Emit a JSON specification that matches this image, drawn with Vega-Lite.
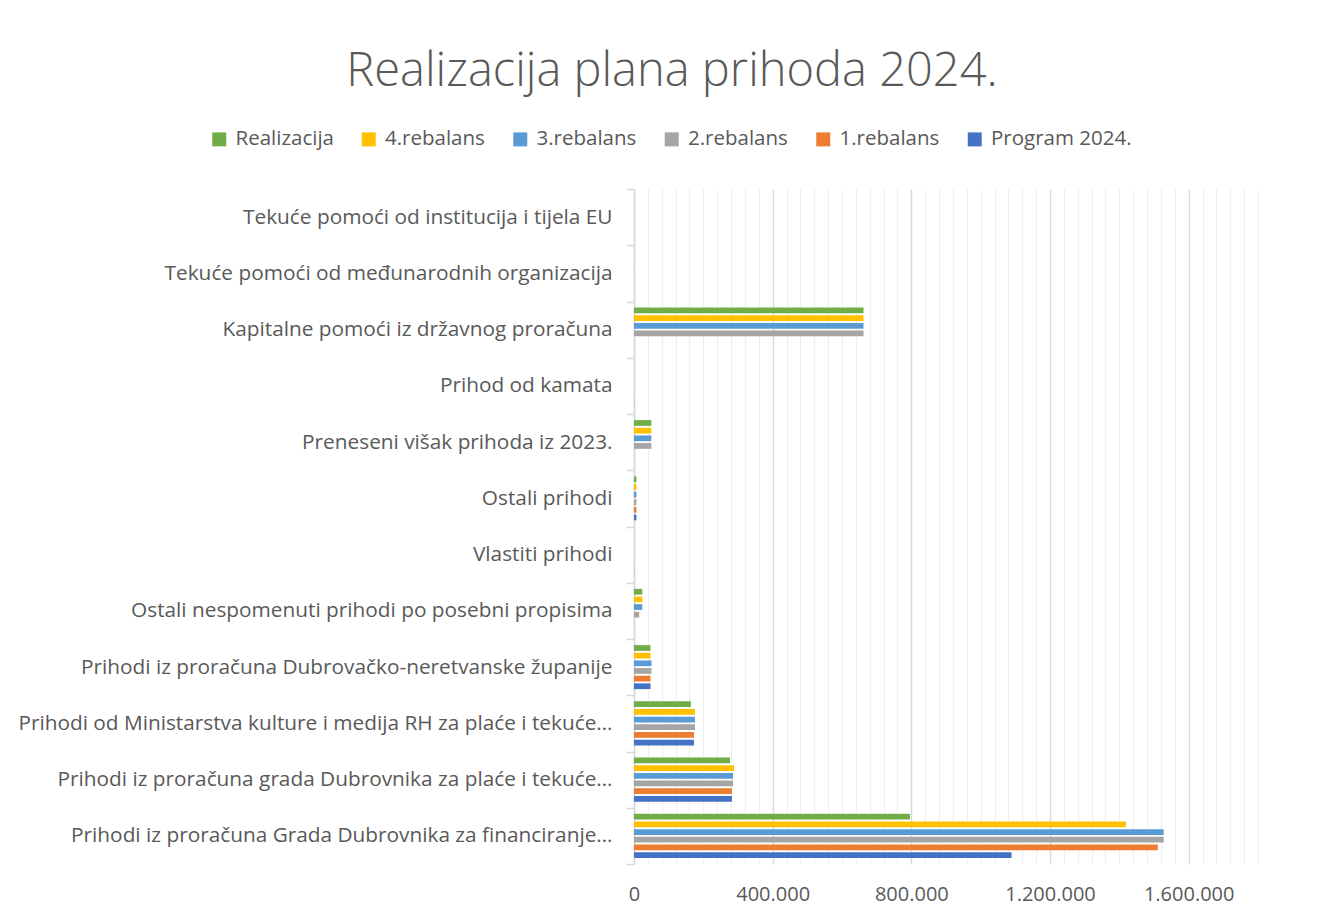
{
  "$schema": "https://vega.github.io/schema/vega-lite/v6.json",
  "autosize": "none",
  "width": 624,
  "height": 675,
  "padding": {"left": 634, "top": 189, "right": 86, "bottom": 55},
  "background": "white",
  "title": {
    "text": "Realizacija plana prihoda 2024.",
    "font": "Open Sans",
    "fontWeight": 300,
    "fontSize": 47,
    "color": "#595959",
    "anchor": "middle",
    "frame": "group",
    "dx": -274,
    "dy": -13,
    "offset": 20
  },
  "data": {
    "values": [
      {"kategorija": "Tekuće pomoći od institucija i tijela EU", "serija": "Realizacija", "iznos": 0},
      {"kategorija": "Tekuće pomoći od institucija i tijela EU", "serija": "4.rebalans", "iznos": 0},
      {"kategorija": "Tekuće pomoći od institucija i tijela EU", "serija": "3.rebalans", "iznos": 0},
      {"kategorija": "Tekuće pomoći od institucija i tijela EU", "serija": "2.rebalans", "iznos": 0},
      {"kategorija": "Tekuće pomoći od institucija i tijela EU", "serija": "1.rebalans", "iznos": 0},
      {"kategorija": "Tekuće pomoći od institucija i tijela EU", "serija": "Program 2024.", "iznos": 0},
      {"kategorija": "Tekuće pomoći od međunarodnih organizacija", "serija": "Realizacija", "iznos": 300},
      {"kategorija": "Tekuće pomoći od međunarodnih organizacija", "serija": "4.rebalans", "iznos": 300},
      {"kategorija": "Tekuće pomoći od međunarodnih organizacija", "serija": "3.rebalans", "iznos": 300},
      {"kategorija": "Tekuće pomoći od međunarodnih organizacija", "serija": "2.rebalans", "iznos": 0},
      {"kategorija": "Tekuće pomoći od međunarodnih organizacija", "serija": "1.rebalans", "iznos": 0},
      {"kategorija": "Tekuće pomoći od međunarodnih organizacija", "serija": "Program 2024.", "iznos": 0},
      {"kategorija": "Kapitalne pomoći iz  državnog proračuna", "serija": "Realizacija", "iznos": 662000},
      {"kategorija": "Kapitalne pomoći iz  državnog proračuna", "serija": "4.rebalans", "iznos": 662000},
      {"kategorija": "Kapitalne pomoći iz  državnog proračuna", "serija": "3.rebalans", "iznos": 662000},
      {"kategorija": "Kapitalne pomoći iz  državnog proračuna", "serija": "2.rebalans", "iznos": 662000},
      {"kategorija": "Kapitalne pomoći iz  državnog proračuna", "serija": "1.rebalans", "iznos": 0},
      {"kategorija": "Kapitalne pomoći iz  državnog proračuna", "serija": "Program 2024.", "iznos": 0},
      {"kategorija": "Prihod od kamata", "serija": "Realizacija", "iznos": 300},
      {"kategorija": "Prihod od kamata", "serija": "4.rebalans", "iznos": 300},
      {"kategorija": "Prihod od kamata", "serija": "3.rebalans", "iznos": 300},
      {"kategorija": "Prihod od kamata", "serija": "2.rebalans", "iznos": 300},
      {"kategorija": "Prihod od kamata", "serija": "1.rebalans", "iznos": 300},
      {"kategorija": "Prihod od kamata", "serija": "Program 2024.", "iznos": 300},
      {"kategorija": "Preneseni višak prihoda iz 2023.", "serija": "Realizacija", "iznos": 50000},
      {"kategorija": "Preneseni višak prihoda iz 2023.", "serija": "4.rebalans", "iznos": 50000},
      {"kategorija": "Preneseni višak prihoda iz 2023.", "serija": "3.rebalans", "iznos": 50000},
      {"kategorija": "Preneseni višak prihoda iz 2023.", "serija": "2.rebalans", "iznos": 50000},
      {"kategorija": "Preneseni višak prihoda iz 2023.", "serija": "1.rebalans", "iznos": 0},
      {"kategorija": "Preneseni višak prihoda iz 2023.", "serija": "Program 2024.", "iznos": 0},
      {"kategorija": "Ostali prihodi", "serija": "Realizacija", "iznos": 7000},
      {"kategorija": "Ostali prihodi", "serija": "4.rebalans", "iznos": 7000},
      {"kategorija": "Ostali prihodi", "serija": "3.rebalans", "iznos": 7000},
      {"kategorija": "Ostali prihodi", "serija": "2.rebalans", "iznos": 7000},
      {"kategorija": "Ostali prihodi", "serija": "1.rebalans", "iznos": 7000},
      {"kategorija": "Ostali prihodi", "serija": "Program 2024.", "iznos": 7000},
      {"kategorija": "Vlastiti prihodi", "serija": "Realizacija", "iznos": 300},
      {"kategorija": "Vlastiti prihodi", "serija": "4.rebalans", "iznos": 300},
      {"kategorija": "Vlastiti prihodi", "serija": "3.rebalans", "iznos": 300},
      {"kategorija": "Vlastiti prihodi", "serija": "2.rebalans", "iznos": 300},
      {"kategorija": "Vlastiti prihodi", "serija": "1.rebalans", "iznos": 300},
      {"kategorija": "Vlastiti prihodi", "serija": "Program 2024.", "iznos": 300},
      {"kategorija": "Ostali nespomenuti prihodi po posebni propisima", "serija": "Realizacija", "iznos": 24000},
      {"kategorija": "Ostali nespomenuti prihodi po posebni propisima", "serija": "4.rebalans", "iznos": 24000},
      {"kategorija": "Ostali nespomenuti prihodi po posebni propisima", "serija": "3.rebalans", "iznos": 24000},
      {"kategorija": "Ostali nespomenuti prihodi po posebni propisima", "serija": "2.rebalans", "iznos": 15000},
      {"kategorija": "Ostali nespomenuti prihodi po posebni propisima", "serija": "1.rebalans", "iznos": 0},
      {"kategorija": "Ostali nespomenuti prihodi po posebni propisima", "serija": "Program 2024.", "iznos": 0},
      {"kategorija": "Prihodi iz proračuna Dubrovačko-neretvanske županije", "serija": "Realizacija", "iznos": 47600},
      {"kategorija": "Prihodi iz proračuna Dubrovačko-neretvanske županije", "serija": "4.rebalans", "iznos": 47600},
      {"kategorija": "Prihodi iz proračuna Dubrovačko-neretvanske županije", "serija": "3.rebalans", "iznos": 50500},
      {"kategorija": "Prihodi iz proračuna Dubrovačko-neretvanske županije", "serija": "2.rebalans", "iznos": 50500},
      {"kategorija": "Prihodi iz proračuna Dubrovačko-neretvanske županije", "serija": "1.rebalans", "iznos": 47600},
      {"kategorija": "Prihodi iz proračuna Dubrovačko-neretvanske županije", "serija": "Program 2024.", "iznos": 47600},
      {"kategorija": "Prihodi od Ministarstva kulture i medija RH za plaće i tekuće…", "serija": "Realizacija", "iznos": 164000},
      {"kategorija": "Prihodi od Ministarstva kulture i medija RH za plaće i tekuće…", "serija": "4.rebalans", "iznos": 176000},
      {"kategorija": "Prihodi od Ministarstva kulture i medija RH za plaće i tekuće…", "serija": "3.rebalans", "iznos": 176000},
      {"kategorija": "Prihodi od Ministarstva kulture i medija RH za plaće i tekuće…", "serija": "2.rebalans", "iznos": 176000},
      {"kategorija": "Prihodi od Ministarstva kulture i medija RH za plaće i tekuće…", "serija": "1.rebalans", "iznos": 173000},
      {"kategorija": "Prihodi od Ministarstva kulture i medija RH za plaće i tekuće…", "serija": "Program 2024.", "iznos": 173000},
      {"kategorija": "Prihodi iz proračuna grada Dubrovnika za plaće i tekuće…", "serija": "Realizacija", "iznos": 277000},
      {"kategorija": "Prihodi iz proračuna grada Dubrovnika za plaće i tekuće…", "serija": "4.rebalans", "iznos": 288500},
      {"kategorija": "Prihodi iz proračuna grada Dubrovnika za plaće i tekuće…", "serija": "3.rebalans", "iznos": 285500},
      {"kategorija": "Prihodi iz proračuna grada Dubrovnika za plaće i tekuće…", "serija": "2.rebalans", "iznos": 285500},
      {"kategorija": "Prihodi iz proračuna grada Dubrovnika za plaće i tekuće…", "serija": "1.rebalans", "iznos": 282500},
      {"kategorija": "Prihodi iz proračuna grada Dubrovnika za plaće i tekuće…", "serija": "Program 2024.", "iznos": 282500},
      {"kategorija": "Prihodi iz proračuna Grada Dubrovnika za financiranje…", "serija": "Realizacija", "iznos": 796000},
      {"kategorija": "Prihodi iz proračuna Grada Dubrovnika za financiranje…", "serija": "4.rebalans", "iznos": 1419000},
      {"kategorija": "Prihodi iz proračuna Grada Dubrovnika za financiranje…", "serija": "3.rebalans", "iznos": 1528000},
      {"kategorija": "Prihodi iz proračuna Grada Dubrovnika za financiranje…", "serija": "2.rebalans", "iznos": 1528000},
      {"kategorija": "Prihodi iz proračuna Grada Dubrovnika za financiranje…", "serija": "1.rebalans", "iznos": 1511000},
      {"kategorija": "Prihodi iz proračuna Grada Dubrovnika za financiranje…", "serija": "Program 2024.", "iznos": 1089000}
    ]
  },
  "mark": {"type": "bar"},
  "encoding": {
    "y": {
      "field": "kategorija",
      "type": "nominal",
      "sort": null,
      "title": null,
      "scale": {"paddingInner": 0, "paddingOuter": 0},
      "axis": {
        "domainColor": "#D9D9D9",
        "domainWidth": 1.5,
        "tickColor": "#D9D9D9",
        "tickWidth": 1.5,
        "tickSize": 8,
        "tickBand": "extent",
        "labelFont": "Open Sans",
        "labelFontSize": 20.8,
        "labelColor": "#595959",
        "labelPadding": 14,
        "labelLimit": 0,
        "grid": false
      }
    },
    "yOffset": {
      "field": "serija",
      "type": "nominal",
      "sort": ["Realizacija", "4.rebalans", "3.rebalans", "2.rebalans", "1.rebalans", "Program 2024."],
      "scale": {"paddingInner": 0.25, "paddingOuter": 0.8}
    },
    "x": {
      "field": "iznos",
      "type": "quantitative",
      "title": null,
      "scale": {"domain": [0, 1800000], "nice": false},
      "axis": {
        "values": [0, 40000, 80000, 120000, 160000, 200000, 240000, 280000, 320000, 360000, 400000, 440000, 480000, 520000, 560000, 600000, 640000, 680000, 720000, 760000, 800000, 840000, 880000, 920000, 960000, 1000000, 1040000, 1080000, 1120000, 1160000, 1200000, 1240000, 1280000, 1320000, 1360000, 1400000, 1440000, 1480000, 1520000, 1560000, 1600000, 1640000, 1680000, 1720000, 1760000, 1800000],
        "format": ",d",
        "labelExpr": "datum.value % 400000 === 0 ? datum.label : ''",
        "labelFont": "Open Sans",
        "labelFontSize": 20,
        "labelColor": "#595959",
        "labelPadding": 20,
        "labelFlush": false,
        "labelOverlap": false,
        "domain": false,
        "ticks": false,
        "grid": true,
        "gridColor": {"condition": {"test": "datum.value % 400000 === 0", "value": "#D9D9D9"}, "value": "#EEEEEE"},
        "gridWidth": {"condition": {"test": "datum.value % 400000 === 0", "value": 1.5}, "value": 1.2}
      }
    },
    "color": {
      "field": "serija",
      "type": "nominal",
      "sort": ["Realizacija", "4.rebalans", "3.rebalans", "2.rebalans", "1.rebalans", "Program 2024."],
      "scale": {
        "domain": ["Realizacija", "4.rebalans", "3.rebalans", "2.rebalans", "1.rebalans", "Program 2024."],
        "range": ["#70AD47", "#FFC000", "#5B9BD5", "#A5A5A5", "#ED7D31", "#4472C4"]
      },
      "legend": {
        "title": null,
        "orient": "none",
        "legendX": -425,
        "legendY": -60,
        "direction": "horizontal",
        "columns": 6,
        "columnPadding": 24.5,
        "symbolType": "square",
        "symbolSize": 196,
        "symbolStrokeWidth": 0,
        "labelFont": "Open Sans",
        "labelFontSize": 20.5,
        "labelColor": "#595959",
        "labelOffset": 6,
        "labelLimit": 0
      }
    }
  },
  "config": {
    "locale": {"number": {"decimal": ",", "thousands": ".", "grouping": [3], "currency": ["", " €"]}},
    "view": {"stroke": null}
  }
}
